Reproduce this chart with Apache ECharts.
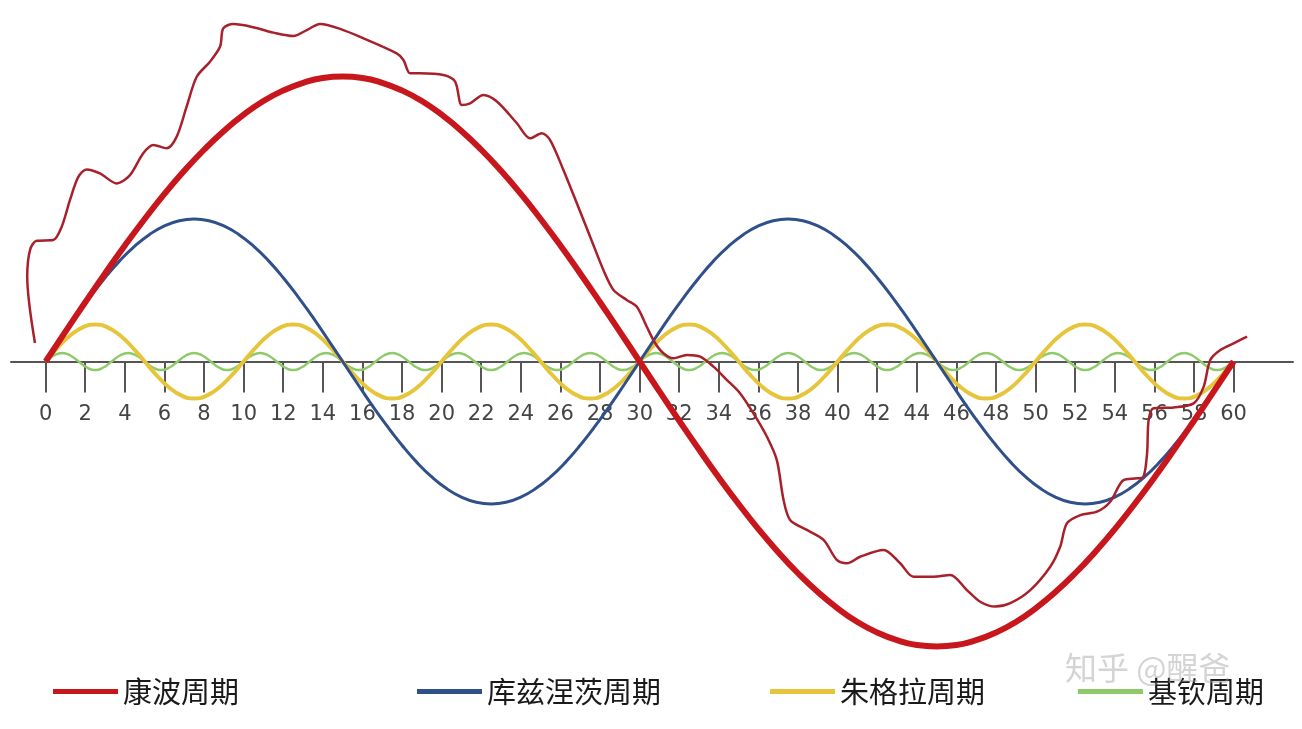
<!DOCTYPE html>
<html>
<head>
<meta charset="utf-8">
<script src="https://cdn.jsdelivr.net/npm/echarts@6/dist/echarts.min.js"></script>
<style>
html,body{margin:0;padding:0;background:#fff;}
#chart{width:1302px;height:729px;}
</style>
</head>
<body>
<div id="chart"></div>
<script>
// ---- data ----
const seriesNames = ['康波周期', '库兹涅茨周期', '朱格拉周期', '基钦周期'];
const tickValues = [0,2,4,6,8,10,12,14,16,18,20,22,24,26,28,30,32,34,36,38,40,42,44,46,48,50,52,54,56,58,60];

// Kondratiev wave, sampled every year
const kondratievStep = 1;
const kondratievValues = [
  0,10.5,20.8,30.9,40.7,50,58.8,66.9,74.3,80.9,86.6,91.4,95.1,97.8,99.5,100,
  99.5,97.8,95.1,91.4,86.6,80.9,74.3,66.9,58.8,50,40.7,30.9,20.8,10.5,0,
  -10.5,-20.8,-30.9,-40.7,-50,-58.8,-66.9,-74.3,-80.9,-86.6,-91.4,-95.1,-97.8,-99.5,-100,
  -99.5,-97.8,-95.1,-91.4,-86.6,-80.9,-74.3,-66.9,-58.8,-50,-40.7,-30.9,-20.8,-10.5,0];

// Kuznets wave, sampled every 0.75 year
const kuznetsStep = 0.75;
const kuznetsValues = [
  0,7.8,15.5,22.7,29.4,35.4,40.5,44.6,47.6,49.4,50,49.4,47.6,44.6,40.5,35.4,29.4,22.7,15.5,7.8,
  0,-7.8,-15.5,-22.7,-29.4,-35.4,-40.5,-44.6,-47.6,-49.4,-50,-49.4,-47.6,-44.6,-40.5,-35.4,-29.4,-22.7,-15.5,-7.8,
  0,7.8,15.5,22.7,29.4,35.4,40.5,44.6,47.6,49.4,50,49.4,47.6,44.6,40.5,35.4,29.4,22.7,15.5,7.8,
  0,-7.8,-15.5,-22.7,-29.4,-35.4,-40.5,-44.6,-47.6,-49.4,-50,-49.4,-47.6,-44.6,-40.5,-35.4,-29.4,-22.7,-15.5,-7.8,
  0];

// Juglar wave, sampled every 0.625 year
const juglarStep = 0.625;
const juglarValues = [
  0,5,9.2,12,13,12,9.2,5,0,-5,-9.2,-12,-13,-12,-9.2,-5,
  0,5,9.2,12,13,12,9.2,5,0,-5,-9.2,-12,-13,-12,-9.2,-5,
  0,5,9.2,12,13,12,9.2,5,0,-5,-9.2,-12,-13,-12,-9.2,-5,
  0,5,9.2,12,13,12,9.2,5,0,-5,-9.2,-12,-13,-12,-9.2,-5,
  0,5,9.2,12,13,12,9.2,5,0,-5,-9.2,-12,-13,-12,-9.2,-5,
  0,5,9.2,12,13,12,9.2,5,0,-5,-9.2,-12,-13,-12,-9.2,-5,
  0];

// Kitchin wave, sampled every 5/12 year
const kitchinStep = 5 / 12;
const kitchinValues = [
  0,2.1,3,2.1,0,-2.1,-3,-2.1, 0,2.1,3,2.1,0,-2.1,-3,-2.1, 0,2.1,3,2.1,0,-2.1,-3,-2.1,
  0,2.1,3,2.1,0,-2.1,-3,-2.1, 0,2.1,3,2.1,0,-2.1,-3,-2.1, 0,2.1,3,2.1,0,-2.1,-3,-2.1,
  0,2.1,3,2.1,0,-2.1,-3,-2.1, 0,2.1,3,2.1,0,-2.1,-3,-2.1, 0,2.1,3,2.1,0,-2.1,-3,-2.1,
  0,2.1,3,2.1,0,-2.1,-3,-2.1, 0,2.1,3,2.1,0,-2.1,-3,-2.1, 0,2.1,3,2.1,0,-2.1,-3,-2.1,
  0,2.1,3,2.1,0,-2.1,-3,-2.1, 0,2.1,3,2.1,0,-2.1,-3,-2.1, 0,2.1,3,2.1,0,-2.1,-3,-2.1,
  0,2.1,3,2.1,0,-2.1,-3,-2.1, 0,2.1,3,2.1,0,-2.1,-3,-2.1, 0,2.1,3,2.1,0,-2.1,-3,-2.1,
  0];

// composite (actual economy) curve, traced point by point: [year, value]
const compositePoints = [
  [-0.54,6.5],[-0.93,29.8],[-0.79,39.1],[-0.45,42.4],[0.38,42.6],[0.81,47.3],[1.23,56.7],
  [1.65,64.8],[2.07,67.4],[2.74,66.0],[3.59,62.5],[4.26,65.4],[4.93,73.1],[5.44,76.0],
  [6.11,74.8],[6.62,78.9],[7.12,89.4],[7.63,99.9],[8.30,105.2],[8.81,110.5],[8.97,116.9],
  [9.48,118.4],[10.49,117.3],[11.50,115.4],[12.51,114.2],[13.19,116.3],[13.86,118.4],
  [14.87,116.7],[16.05,113.4],[17.73,108.1],[18.07,105.8],[18.41,101.1],[18.91,101.1],
  [20.09,100.5],[20.68,98.2],[21.02,90.0],[21.44,90.6],[22.11,93.5],[22.79,91.2],
  [23.80,83.6],[24.47,78.3],[25.06,80.1],[25.48,77.7],[26.15,67.2],[26.83,55.5],
  [27.50,43.8],[28.17,32.1],[28.68,25.1],[29.35,21.6],[29.86,19.2],[30.36,12.2],
  [30.78,6.5],[31.20,2.9],[31.71,1.1],[32.39,2.3],[33.06,1.7],[33.73,-1.8],[34.41,-6.5],
  [35.08,-11.2],[35.75,-18.2],[36.43,-26.4],[36.93,-34.6],[37.27,-48.6],[37.60,-55.6],
  [38.45,-59.1],[39.29,-62.6],[39.96,-69.6],[40.47,-70.8],[41.14,-68.5],[42.32,-66.1],
  [43.16,-70.8],[43.83,-75.5],[44.84,-75.5],[45.69,-74.9],[46.53,-80.2],[47.20,-84.3],
  [47.96,-86.0],[48.72,-84.8],[49.73,-80.2],[50.74,-72.0],[51.24,-65.0],[51.58,-56.8],
  [52.26,-53.9],[53.10,-52.7],[53.77,-49.2],[54.44,-41.6],[55.12,-41.0],[55.45,-40.4],
  [55.63,-32.2],[55.71,-20.5],[55.96,-16.4],[56.97,-16.1],[57.98,-14.7],[58.49,-8.8],
  [58.82,0.5],[59.33,4.0],[60.00,6.4],[60.68,8.7]
];

// ---- build ----
function toPairs(values, step) { return values.map((v, i) => [i * step, v]); }

const colors = {
  kondratiev: '#c8161d',
  kuznets: '#30508a',
  juglar: '#e6c53a',
  kitchin: '#8fca6a',
  composite: '#a8202a'
};

const yMin = -110, yMax = 125;
const gridTop = 5.25, gridBottom = 54, chartH = 729;
// distance between grid bottom and the zero line, so the axis sits on y = 0
const zeroOffset = (chartH - gridTop - gridBottom) * (0 - yMin) / (yMax - yMin);

const chart = echarts.init(document.getElementById('chart'), null, {renderer: 'canvas'});

const legendBase = {
  orient: 'horizontal',
  icon: 'rect',
  itemWidth: 65,
  itemHeight: 5,
  top: 672,
  textStyle: {fontSize: 29, color: '#1a1a1a', fontFamily: 'Noto Sans CJK SC'},
  selectedMode: false
};
const legendLefts = [48, 412, 765, 1073];

chart.setOption({
  animation: false,
  backgroundColor: '#ffffff',
  grid: {left: 11, right: 9, top: gridTop, bottom: gridBottom, containLabel: false, outerBoundsMode: 'none'},
  legend: seriesNames.map((n, i) => Object.assign({}, legendBase, {data: [n], left: legendLefts[i]})),
  xAxis: {
    type: 'value',
    min: -1.75,
    max: 63,
    position: 'bottom',
    offset: -zeroOffset,
    axisLine: {show: true, onZero: false, lineStyle: {color: '#555', width: 2}},
    axisTick: {show: true, customValues: tickValues, length: 31, lineStyle: {color: '#555', width: 2}},
    axisLabel: {show: true, customValues: tickValues, margin: 43, fontSize: 21, color: '#444', fontFamily: 'DejaVu Sans'},
    splitLine: {show: false}
  },
  yAxis: {
    type: 'value',
    min: yMin,
    max: yMax,
    show: false,
    splitLine: {show: false}
  },
  graphic: [{
    type: 'text',
    left: 1065,
    top: 652,
    z: 100,
    style: {text: '知乎 @醒爸', fontSize: 32, fontFamily: 'Noto Sans CJK SC', fill: 'rgba(160,160,160,0.45)'}
  }],
  series: [
    {
      name: seriesNames[3], type: 'line', showSymbol: false, symbol: 'none', smooth: true,
      data: toPairs(kitchinValues, kitchinStep),
      itemStyle: {color: colors.kitchin},
      lineStyle: {color: colors.kitchin, width: 2.5}, z: 2
    },
    {
      name: seriesNames[2], type: 'line', showSymbol: false, symbol: 'none', smooth: true,
      data: toPairs(juglarValues, juglarStep),
      itemStyle: {color: colors.juglar},
      lineStyle: {color: colors.juglar, width: 4}, z: 3
    },
    {
      name: seriesNames[1], type: 'line', showSymbol: false, symbol: 'none', smooth: true,
      data: toPairs(kuznetsValues, kuznetsStep),
      itemStyle: {color: colors.kuznets},
      lineStyle: {color: colors.kuznets, width: 3}, z: 4
    },
    {
      name: seriesNames[0], type: 'line', showSymbol: false, symbol: 'none', smooth: true,
      data: toPairs(kondratievValues, kondratievStep),
      itemStyle: {color: colors.kondratiev},
      lineStyle: {color: colors.kondratiev, width: 6}, z: 5
    },
    {
      name: '经济波动', type: 'line', showSymbol: false, symbol: 'none', smooth: 0.3,
      data: compositePoints,
      itemStyle: {color: colors.composite},
      lineStyle: {color: colors.composite, width: 2.5}, z: 6
    }
  ]
});
</script>
</body>
</html>
